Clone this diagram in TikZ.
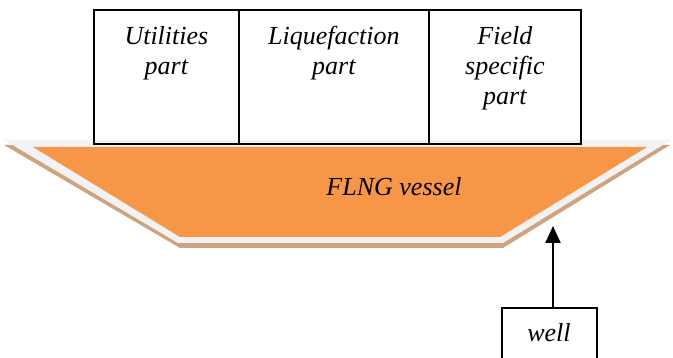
\documentclass[tikz,border=0pt]{standalone}
\usepackage{fontspec}
\setmainfont{Liberation Serif}
\usetikzlibrary{arrows.meta,positioning}
\definecolor{HullOrange}{RGB}{247,150,70}
\definecolor{HullRim}{RGB}{242,242,242}
\definecolor{HullShadow}{RGB}{206,164,126}
\tikzset{
  partbox/.style={draw,line width=1.8pt,minimum height=134,inner sep=0pt,anchor=north west},
  parttext/.style={align=center,font=\fontsize{26}{30}\selectfont\itshape,anchor=north,inner sep=0pt}
}

\begin{document}
\begin{tikzpicture}[x=1pt,y=-1pt,>={Triangle[length=17pt,width=15pt]}]
  \useasboundingbox (0,0) rectangle (673,358);
  % hull: shadow, rim, then the orange deck
  \fill[HullShadow] (4,145)--(670,145)--(503,248)--(180,248)--cycle;
  \fill[HullRim] (4,140)--(671,140)--(503,243)--(178,243)--cycle;
  \fill[HullOrange] (33,147)--(647,147)--(500,237)--(180,237)--cycle;
  \node[parttext,anchor=center] (vessel) at (394,187) {FLNG vessel};
  % topside modules
  \node[partbox,minimum width=145] (util) at (93,9) {};
  \node[partbox,minimum width=190] (liq) at (238,9) {};
  \node[partbox,minimum width=152] (field) at (428,9) {};
  \node[parttext,below=17pt of util.north] (utiltxt) {Utilities\\part};
  \node[parttext,below=17pt of liq.north] (liqtxt) {Liquefaction\\part};
  \node[parttext,below=17pt of field.north] (fieldtxt) {Field\\specific\\part};
  % well feeding the hull
  \node[partbox,minimum width=95,minimum height=60] (well) at (501,307) {};
  \node[parttext,anchor=center] (welltxt) at (549,333) {well};
  \coordinate (inlet) at (553,226);
  \draw[->,line width=2.4pt] (well.north -| inlet) -- (inlet);
\end{tikzpicture}
\end{document}
